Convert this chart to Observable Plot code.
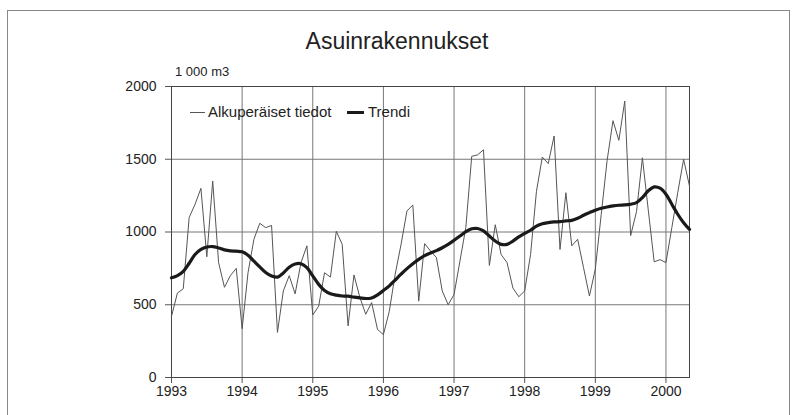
<!DOCTYPE html>
<html><head><meta charset="utf-8">
<script src="https://cdn.jsdelivr.net/npm/d3@7"></script>
<script src="https://cdn.jsdelivr.net/npm/@observablehq/plot@0.6"></script>
<style>
body{margin:0;background:#fff;font-family:"Liberation Sans",Arial,sans-serif;}
#wrap{position:relative;width:794px;height:415px;overflow:hidden;background:#fff;}
#frame{position:absolute;left:7px;top:10px;width:781px;height:420px;border:1px solid #888;}
#chart{position:absolute;left:0;top:0;}
#title{position:absolute;left:0;width:794px;top:27px;text-align:center;font-size:23px;color:#222;line-height:28px;}
#unit{position:absolute;left:175px;top:64px;font-size:13px;color:#222;line-height:16px;}
.lt{position:absolute;top:104px;font-size:15px;line-height:16px;color:#222;white-space:nowrap;}
.ls{position:absolute;height:0;}
</style></head><body>
<div id="wrap">
<div id="frame"></div>
<div id="chart"></div>
<div id="title">Asuinrakennukset</div>
<div id="unit">1 000 m3</div>
<div class="ls" style="left:190px;top:112px;width:15px;border-top:1px solid #555;"></div>
<div class="lt" style="left:208px;">Alkuperäiset tiedot</div>
<div class="ls" style="left:347px;top:111px;width:17px;border-top:3px solid #1a1a1a;"></div>
<div class="lt" style="left:368px;">Trendi</div>
</div>
<script>
const startYear = 1993;
const xTicks = [1993, 1994, 1995, 1996, 1997, 1998, 1999, 2000];
const yTicks = [0, 500, 1000, 1500, 2000];
// monthly values, Jan 1993 .. May 2000 (1 000 m3)
const raw = [
  420, 580, 610, 1100, 1190, 1300, 830, 1350, 790, 620, 700, 750,
  335, 720, 950, 1060, 1030, 1045, 310, 595, 700, 575, 790, 905,
  430, 490, 720, 690, 1005, 915, 355, 705, 550, 435, 515, 330,
  295, 455, 710, 915, 1145, 1185, 525, 920, 870, 825, 595, 500,
  570, 800, 1030, 1520, 1530, 1565, 770, 1050, 845, 790, 615, 555,
  595, 845, 1280, 1515, 1470, 1660, 880, 1270, 905, 950, 755, 560,
  745, 1120, 1490, 1765, 1630, 1900, 975, 1140, 1510, 1150, 795, 810,
  790, 1030, 1270, 1500, 1315
];
const trend = [
  685, 700, 730, 785, 845, 880, 897, 900, 890, 877, 870, 868,
  864, 840, 800, 760, 722, 698, 690, 718, 758, 780, 782, 755,
  698, 640, 598, 575, 566, 560, 559, 552, 547, 543, 547, 568,
  598, 630, 670, 710, 748, 782, 812, 838, 856, 872, 892, 915,
  943, 972, 1002, 1022, 1024, 1007, 972, 938, 915, 915, 938, 966,
  990, 1012, 1040, 1057, 1064, 1069, 1071, 1076, 1080, 1094, 1115, 1133,
  1150, 1163, 1172, 1179, 1184, 1186, 1191, 1202, 1237, 1283, 1310, 1301,
  1260, 1191, 1122, 1064, 1018
];
const rows = raw.map((v, i) => ({t: startYear + i / 12, raw: v, trend: trend[i]}));
const fmt = d => String(d);
const chart = Plot.plot({
  width: 794, height: 415,
  marginLeft: 171, marginRight: 105, marginTop: 86, marginBottom: 38,
  style: {fontFamily: "Liberation Sans, Arial, sans-serif", fontSize: "14px", color: "#222", background: "transparent"},
  x: {domain: [1993, 2000 + 4 / 12], label: null},
  y: {domain: [0, 2000], label: null},
  marks: [
    Plot.gridX(xTicks, {stroke: "#777", strokeOpacity: 1}),
    Plot.gridY(yTicks, {stroke: "#777", strokeOpacity: 1}),
    Plot.axisX(xTicks, {tickSize: 6, tickPadding: 3, tickFormat: fmt, label: null, stroke: "#555", fontSize: 14}),
    Plot.axisY(yTicks, {tickSize: 6, tickPadding: 9, tickFormat: fmt, label: null, stroke: "#555", fontSize: 14}),
    Plot.frame({stroke: "#444"}),
    Plot.line(rows, {x: "t", y: "raw", stroke: "#555", strokeWidth: 1}),
    Plot.line(rows, {x: "t", y: "trend", stroke: "#1a1a1a", strokeWidth: 3.2, curve: "catmull-rom"})
  ]
});
document.getElementById("chart").appendChild(chart);
</script>
</body></html>
